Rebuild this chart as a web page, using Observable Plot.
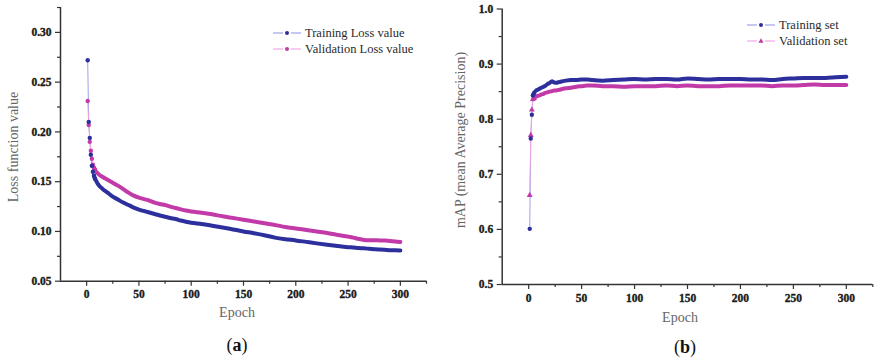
<!DOCTYPE html>
<html>
<head>
<meta charset="utf-8">
<script src="https://cdn.jsdelivr.net/npm/d3@7"></script>
<script src="https://cdn.jsdelivr.net/npm/@observablehq/plot@0.6"></script>
<style>
  html, body { margin: 0; padding: 0; background: #fff; }
  #root { position: relative; width: 874px; height: 362px; overflow: hidden; font-family: "Liberation Serif", "DejaVu Serif", serif; }
  .panel { position: absolute; top: 0; }
  .lbl { position: absolute; white-space: nowrap; transform: translate(-50%, -50%); color: #666; font-size: 14px; }
  .rot { transform: translate(-50%, -50%) rotate(-90deg); }
  .cap { position: absolute; white-space: nowrap; transform: translate(-50%, -50%); color: #111; font-size: 18px; }
  .cap b { font-weight: bold; }
  .leg { position: absolute; display: flex; flex-direction: column; gap: 2px; font-size: 12.5px; color: #2a2a2a; }
  .leg div { display: flex; align-items: center; height: 14px; }
  .leg svg { margin-right: 3px; }
</style>
</head>
<body>
<div id="root"></div>
<script>
// ---------- Panel (a): loss ----------
const epochsA = [1,2,3,4,5,6,7,8,9,10,12,15,20,25,30,35,40,45,50,55,60,65,70,75,80,85,90,95,100,110,120,130,140,150,160,170,180,190,200,210,220,230,240,250,255,260,265,270,275,280,285,290,295,300];
const trainLoss = [0.272,0.210,0.194,0.177,0.166,0.160,0.156,0.153,0.151,0.149,0.146,0.143,0.139,0.135,0.132,0.129,0.1265,0.124,0.122,0.1205,0.119,0.1175,0.116,0.1148,0.1135,0.1125,0.111,0.1098,0.1088,0.1075,0.1058,0.1040,0.1020,0.1000,0.0982,0.0962,0.0938,0.0922,0.0910,0.0895,0.0880,0.0866,0.0853,0.0842,0.0838,0.0833,0.0830,0.0826,0.0822,0.0818,0.0815,0.0812,0.0810,0.0809];
const valLoss = [0.231,0.207,0.190,0.181,0.173,0.167,0.164,0.162,0.160,0.159,0.157,0.155,0.152,0.149,0.146,0.1425,0.139,0.136,0.134,0.1325,0.131,0.129,0.1275,0.1265,0.125,0.1235,0.1222,0.121,0.120,0.1188,0.1172,0.1152,0.1135,0.1118,0.1100,0.1082,0.1065,0.1045,0.1030,0.1015,0.1000,0.0985,0.0965,0.0948,0.0938,0.0925,0.0915,0.0912,0.0912,0.0910,0.0908,0.0905,0.0900,0.0893];

// ---------- Panel (b): mAP ----------
const epochsB = [1,2,3,4,5,6,7,8,10,12,14,16,18,20,22,24,26,28,30,35,40,45,50,55,60,70,80,90,100,110,120,130,140,150,160,170,180,190,200,210,220,230,240,250,260,270,280,290,300];
const trainMAP = [0.601,0.765,0.808,0.843,0.847,0.850,0.852,0.853,0.855,0.857,0.859,0.861,0.864,0.866,0.869,0.867,0.866,0.867,0.868,0.870,0.871,0.871,0.872,0.872,0.871,0.870,0.871,0.872,0.873,0.872,0.873,0.873,0.872,0.874,0.873,0.872,0.873,0.873,0.873,0.872,0.872,0.871,0.873,0.874,0.875,0.875,0.875,0.876,0.877];
const valMAP = [0.662,0.771,0.817,0.836,0.838,0.840,0.841,0.842,0.843,0.845,0.846,0.848,0.849,0.850,0.851,0.852,0.852,0.853,0.854,0.856,0.857,0.859,0.860,0.861,0.861,0.860,0.860,0.859,0.860,0.860,0.860,0.861,0.860,0.861,0.860,0.860,0.860,0.861,0.861,0.861,0.861,0.860,0.861,0.861,0.862,0.863,0.862,0.862,0.862];

// ---------- Labels ----------
const seriesNamesA = ["Training Loss value", "Validation Loss value"];
const seriesNamesB = ["Training set", "Validation set"];
const xTicks = [0,50,100,150,200,250,300];
const xMinorTicks = [25,75,125,175,225,275,325];
const yTicksA = [0.05,0.10,0.15,0.20,0.25,0.30];
const yMinorA = [0.075,0.125,0.175,0.225,0.275,0.325];
const yTicksB = [0.5,0.6,0.7,0.8,0.9,1.0];
const yMinorB = [0.55,0.65,0.75,0.85,0.95];

const BLUE = "#2c2f9c", BLUE_PALE = "#9ea0e8";
const MAG = "#c23aa8", MAG_PALE = "#f2a6e4";

function rows(ep, vals) { return ep.map((e, i) => ({epoch: e, v: vals[i]})); }

function panel(cfg) {
  const tr = rows(cfg.epochs, cfg.train), va = rows(cfg.epochs, cfg.val);
  const axisStyle = {stroke: "#333", strokeWidth: 1.2, fill: "#1a1a1a", fontWeight: "bold", label: null};
  const svg = Plot.plot({
    width: cfg.width, height: 362,
    marginLeft: cfg.ml, marginRight: cfg.mr, marginTop: cfg.mt, marginBottom: 362 - cfg.yb,
    x: {domain: [-25, 325]},
    y: {domain: cfg.ydom},
    style: {fontFamily: "'Liberation Serif', serif", fontSize: "11.5px", background: "transparent", overflow: "visible"},
    marks: [
      Plot.axisX({ticks: xTicks, tickSize: 5, tickPadding: 4, tickFormat: d => String(d), ...axisStyle}),
      Plot.axisX({ticks: xMinorTicks, tickSize: 3, tickFormat: () => "", ...axisStyle}),
      Plot.axisY({ticks: cfg.yticks, tickSize: 5, tickPadding: 4, tickFormat: cfg.yfmt, ...axisStyle}),
      Plot.axisY({ticks: cfg.yminor, tickSize: 3, tickFormat: () => "", ...axisStyle}),
      Plot.ruleX([-25], {stroke: "#333", strokeWidth: 1.5}),
      Plot.ruleY([cfg.ydom[0]], {stroke: "#333", strokeWidth: 1.5}),
      Plot.line(tr, {x: "epoch", y: "v", stroke: BLUE_PALE, strokeWidth: 1}),
      Plot.line(va, {x: "epoch", y: "v", stroke: MAG_PALE, strokeWidth: 1}),
      Plot.line(va.filter(d => d.epoch >= cfg.thickFrom), {x: "epoch", y: "v", stroke: MAG, strokeWidth: 4, curve: "monotone-x"}),
      Plot.line(tr.filter(d => d.epoch >= cfg.thickFrom), {x: "epoch", y: "v", stroke: BLUE, strokeWidth: 4, curve: "monotone-x"}),
      Plot.dot(va.filter(d => d.epoch < cfg.thickFrom + 2), {x: "epoch", y: "v", r: 2.2, fill: MAG, stroke: "none", symbol: cfg.valSymbol}),
      Plot.dot(tr.filter(d => d.epoch < cfg.thickFrom + 2), {x: "epoch", y: "v", r: 2.2, fill: BLUE, stroke: "none", symbol: "circle"})
    ]
  });
  // make tick labels bold serif like the original
  svg.querySelectorAll("text").forEach(t => {
    t.setAttribute("font-weight", "bold");
    t.setAttribute("font-family", "Liberation Serif");
    t.style.fontWeight = "700";
    t.style.fontFamily = "'Liberation Serif'";
    t.style.stroke = "#1a1a1a";
    t.style.strokeWidth = "0.35px";
    t.style.fill = "#1a1a1a";
  });
  return svg;
}

const root = document.getElementById("root");

const pa = panel({width: 440, ml: 60, mr: 14, mt: 7, yb: 280.7, ydom: [0.05, 0.325],
  epochs: epochsA, train: trainLoss, val: valLoss, yticks: yTicksA, yminor: yMinorA,
  yfmt: d3.format(".2f"), thickFrom: 7, valSymbol: "circle"});
pa.classList.add("panel"); pa.style.left = "0px";
root.appendChild(pa);

const pb = panel({width: 434, ml: 61.7, mr: 1.7, mt: 8.5, yb: 284, ydom: [0.5, 1.0],
  epochs: epochsB, train: trainMAP, val: valMAP, yticks: yTicksB, yminor: yMinorB,
  yfmt: d3.format(".1f"), thickFrom: 4, valSymbol: "triangle"});
pb.classList.add("panel"); pb.style.left = "440px";
root.appendChild(pb);

function addText(cls, html, x, y) {
  const d = document.createElement("div");
  d.className = cls; d.innerHTML = html;
  d.style.left = x + "px"; d.style.top = y + "px";
  root.appendChild(d);
}
addText("lbl rot", "Loss function value", 14, 147);
addText("lbl", "Epoch", 237, 313);
addText("cap", "(<b>a</b>)", 237, 345);
addText("lbl rot", "mAP (mean Average Precision)", 461, 140);
addText("lbl", "Epoch", 680, 318);
addText("cap", "(<b>b</b>)", 685, 347);

function legend(names, x, y, symbols) {
  const box = document.createElement("div");
  box.className = "leg"; box.style.left = x + "px"; box.style.top = y + "px";
  const pale = [BLUE_PALE, MAG_PALE], col = [BLUE, MAG];
  names.forEach((n, i) => {
    const row = document.createElement("div");
    const mark = symbols[i] === "triangle"
      ? `<path d="M15,4.2 L17.6,8.8 L12.4,8.8 Z" fill="${col[i]}"/>`
      : `<circle cx="15" cy="7" r="2" fill="${col[i]}"/>`;
    row.innerHTML = `<svg width="30" height="14"><line x1="1" y1="7" x2="11" y2="7" stroke="${pale[i]}" stroke-width="1.2"/><line x1="19" y1="7" x2="29" y2="7" stroke="${pale[i]}" stroke-width="1.2"/>${mark}</svg><span>${n}</span>`;
    box.appendChild(row);
  });
  root.appendChild(box);
}
legend(seriesNamesA, 272, 26, ["circle", "circle"]);
legend(seriesNamesB, 746, 18, ["circle", "triangle"]);
</script>
</body>
</html>
